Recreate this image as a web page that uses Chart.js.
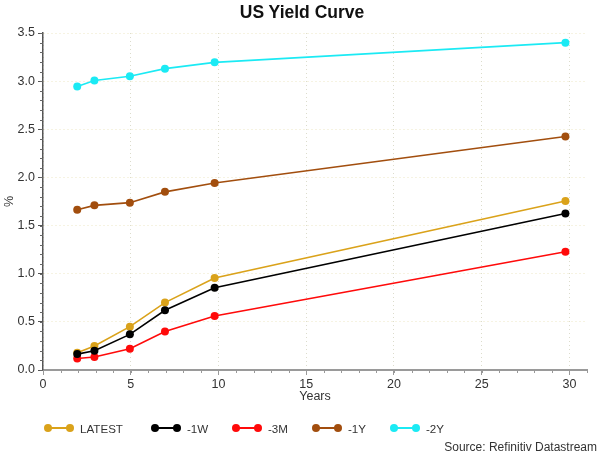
<!DOCTYPE html>
<html>
<head>
<meta charset="utf-8">
<script src="https://cdn.jsdelivr.net/npm/chart.js@4/dist/chart.umd.min.js"></script>
<style>
  body{margin:0;background:#fff;font-family:"Liberation Sans",Arial,sans-serif;}
  #wrap{position:relative;width:600px;height:454px;}
  #title{position:absolute;left:202px;width:200px;top:2px;text-align:center;font-size:17.5px;font-weight:bold;color:#111;}
  #legend{position:absolute;left:0;top:420px;height:16px;font-size:11.6px;color:#333;}
  .item{position:absolute;top:0;display:flex;align-items:center;height:16px;}
  .mark{position:relative;width:30px;height:16px;margin-right:6px;}
  .mark .ln{position:absolute;left:3px;right:3px;top:7px;height:2px;}
  .mark .dt{position:absolute;top:4px;width:8px;height:8px;border-radius:50%;}
  #source{position:absolute;right:3px;top:440px;font-size:12px;color:#333;}
</style>
</head>
<body>
<div id="wrap">
  <canvas id="yieldChart" width="600" height="454"></canvas>
  <div id="title">US Yield Curve</div>
  <div id="legend"></div>
  <div id="source">Source: Refinitiv Datastream</div>
</div>
<script>
//======================================
// Data
//======================================

const maturities = [1.95, 2.93, 4.95, 6.95, 9.78, 29.77];

const seriesNames = ["LATEST", "-1W", "-3M", "-1Y", "-2Y"];
const seriesColors = ["#DAA21A", "#000000", "#FF0A0A", "#A24E0E", "#1BEAF4"];

const latest = [0.18, 0.25, 0.45, 0.70, 0.955, 1.755];
const oneWeek = [0.165, 0.20, 0.37, 0.62, 0.855, 1.625];
const threeMonths = [0.12, 0.135, 0.22, 0.40, 0.56, 1.228];
const oneYear = [1.665, 1.71, 1.738, 1.85, 1.943, 2.425];
const twoYears = [2.945, 3.007, 3.05, 3.13, 3.195, 3.40];

const xTicks = [0, 5, 10, 15, 20, 25, 30];
const yTicks = [0, 0.5, 1.0, 1.5, 2.0, 2.5, 3.0, 3.5];

const seriesValues = [latest, oneWeek, threeMonths, oneYear, twoYears];

//======================================
// Datasets
//======================================

const datasets = seriesValues.map((vals, i) => ({
    label: seriesNames[i],
    data: vals.map((v, j) => ({x: maturities[j], y: v})),
    borderColor: seriesColors[i],
    backgroundColor: seriesColors[i],
    borderWidth: 1.6,
    pointRadius: 4,
    pointBorderWidth: 0,
    tension: 0,
    order: i == 1 ? 0 : i + 1
}));

//======================================
// Minor ticks
//======================================

const minorTicks = {
    id: "minorTicks",
    afterDraw(chart){
        const ctx = chart.ctx;
        const xs = chart.scales.x;
        const ys = chart.scales.y;
        ctx.save();
        ctx.lineWidth = 1;
        ctx.strokeStyle = "#666";
        for(let v = 0; v <= 3.5001; v += 0.1){
            const p = Math.round(ys.getPixelForValue(v)) + 0.5;
            ctx.beginPath();
            ctx.moveTo(xs.left - 3, p);
            ctx.lineTo(xs.left, p);
            ctx.stroke();
        }
        ctx.strokeStyle = "#999";
        for(let v = 0; v <= 31; v += 1){
            const p = Math.round(xs.getPixelForValue(v)) + 0.5;
            ctx.beginPath();
            ctx.moveTo(p, ys.bottom);
            ctx.lineTo(p, ys.bottom + 3);
            ctx.stroke();
        }
        ctx.restore();
    }
};

//======================================
// Chart
//======================================

const tickFont = {family: "'Liberation Sans', Arial, sans-serif", size: 12.5};

new Chart(document.getElementById("yieldChart"), {
    type: "line",
    data: {datasets: datasets},
    options: {
        responsive: false,
        animation: false,
        layout: {padding: {left: 2, right: 13, top: 33, bottom: 50}},
        plugins: {
            legend: {display: false},
            tooltip: {enabled: false},
            title: {display: false}
        },
        scales: {
            x: {
                type: "linear",
                min: 0,
                max: 31,
                afterBuildTicks: (s) => { s.ticks = xTicks.map(v => ({value: v})); },
                afterFit: (s) => { s.height = 34; },
                ticks: {color: "#333", font: tickFont, padding: 2, maxRotation: 0},
                grid: {color: "#dcdccc", tickColor: "#999", tickLength: 5, lineWidth: 1},
                border: {color: "#9a9a9a", width: 2, dash: [1, 3]},
                title: {display: true, text: "Years", color: "#333", font: tickFont, padding: {top: 0, bottom: 0}}
            },
            y: {
                min: 0,
                max: 3.5,
                afterBuildTicks: (s) => { s.ticks = yTicks.map(v => ({value: v})); },
                afterFit: (s) => { s.width = 41; },
                ticks: {color: "#333", font: tickFont, padding: 3, callback: (v) => Number(v).toFixed(1)},
                grid: {color: "#ece6c4", tickColor: "#555", tickLength: 5, lineWidth: 1},
                border: {color: "#555", width: 1.5, dash: [1, 3]},
                title: {display: true, text: "%", color: "#333", font: tickFont, padding: {top: 0, bottom: 4}}
            }
        }
    },
    plugins: [minorTicks]
});

//======================================
// Legend
//======================================

const legendLeft = [44, 151, 232, 312, 390];
const legend = document.getElementById("legend");

seriesNames.forEach((name, i) => {
    const item = document.createElement("div");
    item.className = "item";
    item.style.left = legendLeft[i] + "px";
    const c = seriesColors[i];
    item.innerHTML =
        '<span class="mark"><span class="ln" style="background:' + c + '"></span>' +
        '<span class="dt" style="left:0;background:' + c + '"></span>' +
        '<span class="dt" style="right:0;background:' + c + '"></span></span>' +
        '<span>' + name + '</span>';
    legend.appendChild(item);
});
</script>
</body>
</html>
